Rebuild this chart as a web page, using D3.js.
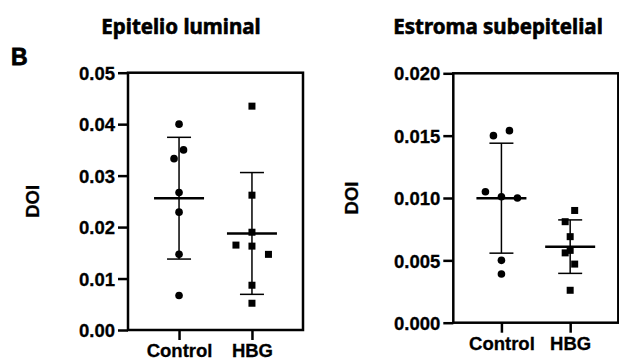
<!DOCTYPE html>
<html>
<head>
<meta charset="utf-8">
<script src="https://cdn.jsdelivr.net/npm/d3@7"></script>
<style>
  body { margin: 0; background: #fff; }
  svg { display: block; }
  .tick text { font-family: 'Liberation Sans', Arial, sans-serif; font-weight: bold; font-size: 18.5px; fill: #000; stroke: #000; stroke-width: 0.3px; }
</style>
</head>
<body>
<div id="chart"></div>
<script>
// data (DOI values)
const groups = ['Control', 'HBG']
const epitelioControl = [0.0400, 0.0350, 0.0333, 0.0267, 0.0229, 0.0147, 0.0067]
const epitelioHBG = [0.0435, 0.0262, 0.0190, 0.0163, 0.0165, 0.0147, 0.0087, 0.0052]
const estromaControl = [0.0150, 0.0154, 0.0105, 0.0101, 0.0100, 0.0050, 0.0039]
const estromaHBG = [0.0090, 0.0081, 0.0069, 0.0058, 0.0056, 0.0047, 0.0026]
const epitelioTicks = [0, 0.01, 0.02, 0.03, 0.04, 0.05]
const estromaTicks = [0, 0.005, 0.010, 0.015, 0.020]

// horizontal scatter of overlapping points (px), per point
const epitelioJitter = [[0, 4.5, -5, 0, 0, 0, 0], [0, 0, 0, 0, -16, 16.5, 0, 0]]
const estromaJitter = [[-8, 8, -16, 0, 16, 0, 0], [4.5, -5, 0, 0, -5, 4.5, 0]]

const width = 619
const height = 361

const svg = d3.select('#chart')
  .append('svg')
  .attr('width', width)
  .attr('height', height)

svg.append('text')
  .attr('x', 11)
  .attr('y', 65)
  .style('font-family', "'Liberation Sans', Arial, sans-serif")
  .style('font-weight', 'bold')
  .style('font-size', '23px')
  .style('stroke', '#000')
  .style('stroke-width', 0.8)
  .text('B')

function panel (opts) {
  const g = svg.append('g')
  const x = d3.scalePoint()
    .domain(groups)
    .range([opts.left, opts.right])
    .padding(0.7)
  const y = d3.scaleLinear()
    .domain(opts.domain)
    .range([opts.bottom, opts.top])

  // title
  g.append('text')
    .attr('x', opts.titleX)
    .attr('y', 34)
    .attr('text-anchor', 'middle')
    .style('font-family', "'Noto Sans', 'Open Sans', sans-serif")
    .style('font-weight', 'bold')
    .style('font-size', '20.5px')
    .style('stroke', '#000')
    .style('stroke-width', 0.6)
    .text(opts.title)

  // y axis label
  g.append('text')
    .attr('transform', 'translate(' + (opts.labelX) + ',' + ((opts.top + opts.bottom) / 2) + ') rotate(-90)')
    .attr('text-anchor', 'middle')
    .style('font-family', "'Liberation Sans', Arial, sans-serif")
    .style('font-weight', 'bold')
    .style('font-size', '18.5px')
    .style('stroke', '#000')
    .style('stroke-width', 0.3)
    .text('DOI')

  const yAxis = g.append('g')
    .attr('transform', 'translate(' + opts.left + ',0)')
    .call(d3.axisLeft(y).tickValues(opts.ticks).tickFormat(d3.format(opts.fmt)).tickSize(10).tickSizeOuter(0).tickPadding(3))
  yAxis.select('.domain').remove()
  yAxis.selectAll('line').attr('stroke', '#000').attr('stroke-width', 2.5)
  yAxis.selectAll('text').attr('dy', '0.36em')

  const xAxis = g.append('g')
    .attr('transform', 'translate(0,' + opts.bottom + ')')
    .call(d3.axisBottom(x).tickSize(10).tickSizeOuter(0).tickPadding(4))
  xAxis.select('.domain').remove()
  xAxis.selectAll('line').attr('stroke', '#000').attr('stroke-width', 2.5)

  // frame
  g.append('rect')
    .attr('x', opts.left)
    .attr('y', opts.top)
    .attr('width', opts.right - opts.left)
    .attr('height', opts.bottom - opts.top)
    .attr('fill', 'none')
    .attr('stroke', '#000')
    .attr('stroke-width', 2.5)

  opts.series.forEach(function (vals, i) {
    const cx = x(groups[i])
    const mean = d3.mean(vals)
    const sd = d3.deviation(vals)

    // error bar (mean ± SD)
    g.append('line')
      .attr('x1', cx).attr('x2', cx)
      .attr('y1', y(mean + sd)).attr('y2', y(mean - sd))
      .attr('stroke', '#000').attr('stroke-width', 1.5)
    ;[mean + sd, mean - sd].forEach(function (v) {
      g.append('line')
        .attr('x1', cx - 12).attr('x2', cx + 12)
        .attr('y1', y(v)).attr('y2', y(v))
        .attr('stroke', '#000').attr('stroke-width', 1.5)
    })
    g.append('line')
      .attr('x1', cx - 25).attr('x2', cx + 25)
      .attr('y1', y(mean)).attr('y2', y(mean))
      .attr('stroke', '#000').attr('stroke-width', 2.5)

    const pts = g.selectAll(null).data(vals)
    if (i === 0) {
      pts.enter().append('circle')
        .attr('cx', function (d, j) { return cx + opts.jitter[i][j] })
        .attr('cy', function (d) { return y(d) })
        .attr('r', 3.8)
        .attr('fill', '#000')
    } else {
      pts.enter().append('rect')
        .attr('x', function (d, j) { return cx + opts.jitter[i][j] - 3.5 })
        .attr('y', function (d) { return y(d) - 3.5 })
        .attr('width', 7)
        .attr('height', 7)
        .attr('fill', '#000')
    }
  })
}

panel({
  title: 'Epitelio luminal',
  titleX: 181,
  labelX: 39,
  left: 128,
  right: 303,
  top: 72.7,
  bottom: 330,
  domain: [0, 0.05],
  ticks: epitelioTicks,
  fmt: '.2f',
  series: [epitelioControl, epitelioHBG],
  jitter: epitelioJitter
})

panel({
  title: 'Estroma subepitelial',
  titleX: 498,
  labelX: 358,
  left: 453.3,
  right: 618.3,
  top: 73.3,
  bottom: 322.7,
  domain: [0, 0.02],
  ticks: estromaTicks,
  fmt: '.3f',
  series: [estromaControl, estromaHBG],
  jitter: estromaJitter
})
</script>
</body>
</html>
